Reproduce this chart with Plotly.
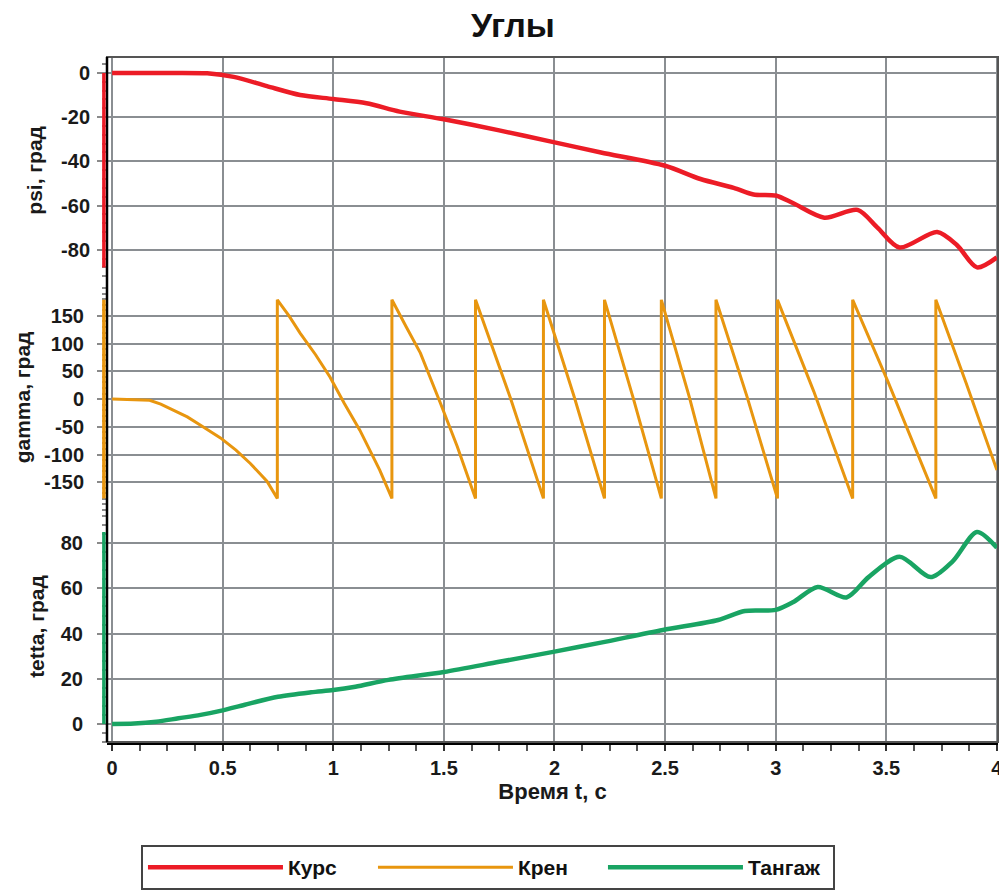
import plotly.graph_objects as go
from plotly.subplots import make_subplots

# ---------------- data ----------------
psi_t = [0.0, 0.25, 0.43, 0.55, 0.70, 0.85, 1.0, 1.15, 1.3, 1.5, 1.75, 1.98, 2.21, 2.5,
         2.66, 2.81, 2.9, 3.0, 3.08, 3.22, 3.37, 3.46, 3.56, 3.73, 3.82, 3.91, 4.0]
psi = [0.0, 0.0, -0.2, -1.8, -6.0, -10.0, -11.8, -13.7, -17.5, -21.0, -26.0, -31.0, -36.0, -42.0,
       -48.0, -52.0, -55.0, -55.5, -59.0, -65.5, -62.0, -70.0, -79.0, -72.0, -78.0, -88.0, -83.5]

tetta_t = [0.0, 0.1, 0.2, 0.3, 0.4, 0.5, 0.6, 0.75, 0.9, 1.0, 1.1, 1.25, 1.5, 1.75, 2.0,
           2.21, 2.49, 2.74, 2.86, 3.0, 3.08, 3.19, 3.32, 3.42, 3.56, 3.70, 3.80, 3.91, 4.0]
tetta = [0.0, 0.2, 1.0, 2.5, 4.0, 6.0, 8.5, 12.0, 14.0, 15.0, 16.5, 19.5, 23.0, 27.5, 32.0,
         36.0, 41.6, 46.0, 50.0, 50.5, 54.0, 60.6, 56.0, 65.0, 74.0, 65.0, 72.0, 85.0, 78.0]

gamma_t = [0.0, 0.10, 0.17, 0.22, 0.28, 0.34, 0.40, 0.49, 0.56, 0.625, 0.70, 0.747,
           0.747, 0.80, 0.85, 0.92, 0.985, 1.05, 1.12, 1.21, 1.265,
           1.265, 1.33, 1.394, 1.484, 1.56, 1.643,
           1.643, 1.80, 1.95,
           1.95, 2.09, 2.226,
           2.226, 2.355, 2.483,
           2.483, 2.61, 2.73,
           2.73, 2.87, 3.008,
           3.008, 3.172, 3.348,
           3.348, 3.507, 3.724,
           3.724, 3.86, 4.0]
gamma = [0, -0.5, -2, -9, -20, -32, -47, -70, -92, -116, -148, -179,
         179, 150, 119, 80, 40, -8, -56, -128, -179,
         179, 130, 83, -7, -85, -179,
         179, 3, -179,
         179, 3, -179,
         179, 3, -179,
         179, 3, -179,
         179, 5, -179,
         179, 14, -179,
         179, 32, -179,
         179, 30, -128]

names = ["Курс", "Крен", "Тангаж"]
colors = ["#EC1C26", "#E8960F", "#19A463"]
ytitles = ["psi, град", "gamma, град", "tetta, град"]
psi_ticks = [0, -20, -40, -60, -80]
gamma_ticks = [150, 100, 50, 0, -50, -100, -150]
tetta_ticks = [0, 20, 40, 60, 80]
x_ticks = [0, 0.5, 1, 1.5, 2, 2.5, 3, 3.5, 4]
x_labels = ["0", "0.5", "1", "1.5", "2", "2.5", "3", "3.5", "4"]

FONT = "Liberation Sans"
GRID = "#8a8e92"
TXT = "#1a1a1a"

# page body adds an 8px offset; figure is sized so the plot lands where the reference has it
W, H = 999, 882

fig = make_subplots(rows=3, cols=1, shared_xaxes=True, vertical_spacing=0)

fig.add_trace(go.Scatter(x=psi_t, y=psi, mode="lines", name=names[0],
                         line=dict(color=colors[0], width=4.5, shape="spline", smoothing=0.8)),
              row=1, col=1)
fig.add_trace(go.Scatter(x=gamma_t, y=gamma, mode="lines", name=names[1],
                         line=dict(color=colors[1], width=3, shape="linear")),
              row=2, col=1)
fig.add_trace(go.Scatter(x=tetta_t, y=tetta, mode="lines", name=names[2],
                         line=dict(color=colors[2], width=4.5, shape="spline", smoothing=0.8)),
              row=3, col=1)

domains = [[0.669, 1.0], [0.337, 0.669], [0.0, 0.337]]
ranges = [[-95.4, 7.2], [-202, 208], [-8, 94.2]]
tickvals = [psi_ticks, gamma_ticks, tetta_ticks]
minor_dt = [4, 10, 4]
label_gap = [3, 9, 10]
title_gap = [12, 7, 10]

for i in range(3):
    fig.update_yaxes(
        row=i + 1, col=1, domain=domains[i], range=ranges[i], automargin=False,
        tickmode="array", tickvals=tickvals[i], ticktext=[str(v) for v in tickvals[i]],
        showgrid=True, gridcolor=GRID, gridwidth=1.5,
        zeroline=False, showline=False,
        ticks="outside", ticklen=9, tickcolor="#8a8a8a", tickwidth=1.5,
        ticklabelstandoff=label_gap[i],
        minor=dict(ticks="outside", ticklen=4, tickcolor="#8a8a8a", dtick=minor_dt[i], tick0=0, showgrid=False),
        tickfont=dict(family=FONT, size=20, color=TXT, weight="bold"),
        title=dict(text=ytitles[i], font=dict(family=FONT, size=21, color=TXT, weight="bold"),
                   standoff=title_gap[i]),
    )

for i in range(3):
    fig.update_xaxes(
        row=i + 1, col=1, range=[-0.023, 4.005], automargin=False,
        tickmode="array", tickvals=x_ticks, ticktext=x_labels,
        showgrid=True, gridcolor=GRID, gridwidth=1.5, zeroline=False,
        showticklabels=(i == 2),
        ticks="outside" if i == 2 else "",
        ticklen=6, tickcolor="#333", tickwidth=1.5,
        minor=dict(ticks="outside" if i == 2 else "", ticklen=6, tickcolor="#555", dtick=0.125, tick0=0, showgrid=False),
        showline=(i == 2), linecolor="#000", linewidth=3,
        tickfont=dict(family=FONT, size=20, color=TXT, weight="bold"),
    )
fig.update_xaxes(row=3, col=1,
                 title=dict(text="Время t, с", font=dict(family=FONT, size=22, color=TXT, weight="bold"), standoff=4))

# frame
fig.add_shape(type="rect", xref="paper", yref="paper", x0=0, x1=1, y0=0, y1=1,
              line=dict(color="#555", width=2), layer="above")
fig.add_shape(type="line", xref="paper", yref="paper", x0=0, x1=0, y0=0, y1=1,
              line=dict(color="#000", width=2.5), layer="above")

# colored value-range bars on the left axis
series_vals = [psi, gamma, tetta]
yrefs = ["y", "y2", "y3"]
for i in range(3):
    fig.add_shape(type="line", xref="paper", yref=yrefs[i], x0=-0.0035, x1=-0.0035,
                  y0=min(series_vals[i]), y1=max(series_vals[i]),
                  line=dict(color=colors[i], width=3.5), layer="above")

fig.update_layout(
    width=W, height=H,
    margin=dict(l=99, r=9, t=49, b=148, autoexpand=False),
    paper_bgcolor="white", plot_bgcolor="white",
    title=dict(text="Углы", x=0.5055, xanchor="center", y=0.994, yanchor="top",
               pad=dict(t=0, b=0), font=dict(family=FONT, size=34, color="#111", weight="bold")),
    showlegend=True,
    legend=dict(orientation="h", x=0.1331, xref="container", xanchor="left",
                y=0.051, yref="container", yanchor="top",
                bordercolor="#444", borderwidth=2, bgcolor="white",
                itemwidth=135, entrywidth=80, entrywidthmode="pixels",
                font=dict(family=FONT, size=21, color="#111", weight="bold")),
)

fig.write_html("out.html")
